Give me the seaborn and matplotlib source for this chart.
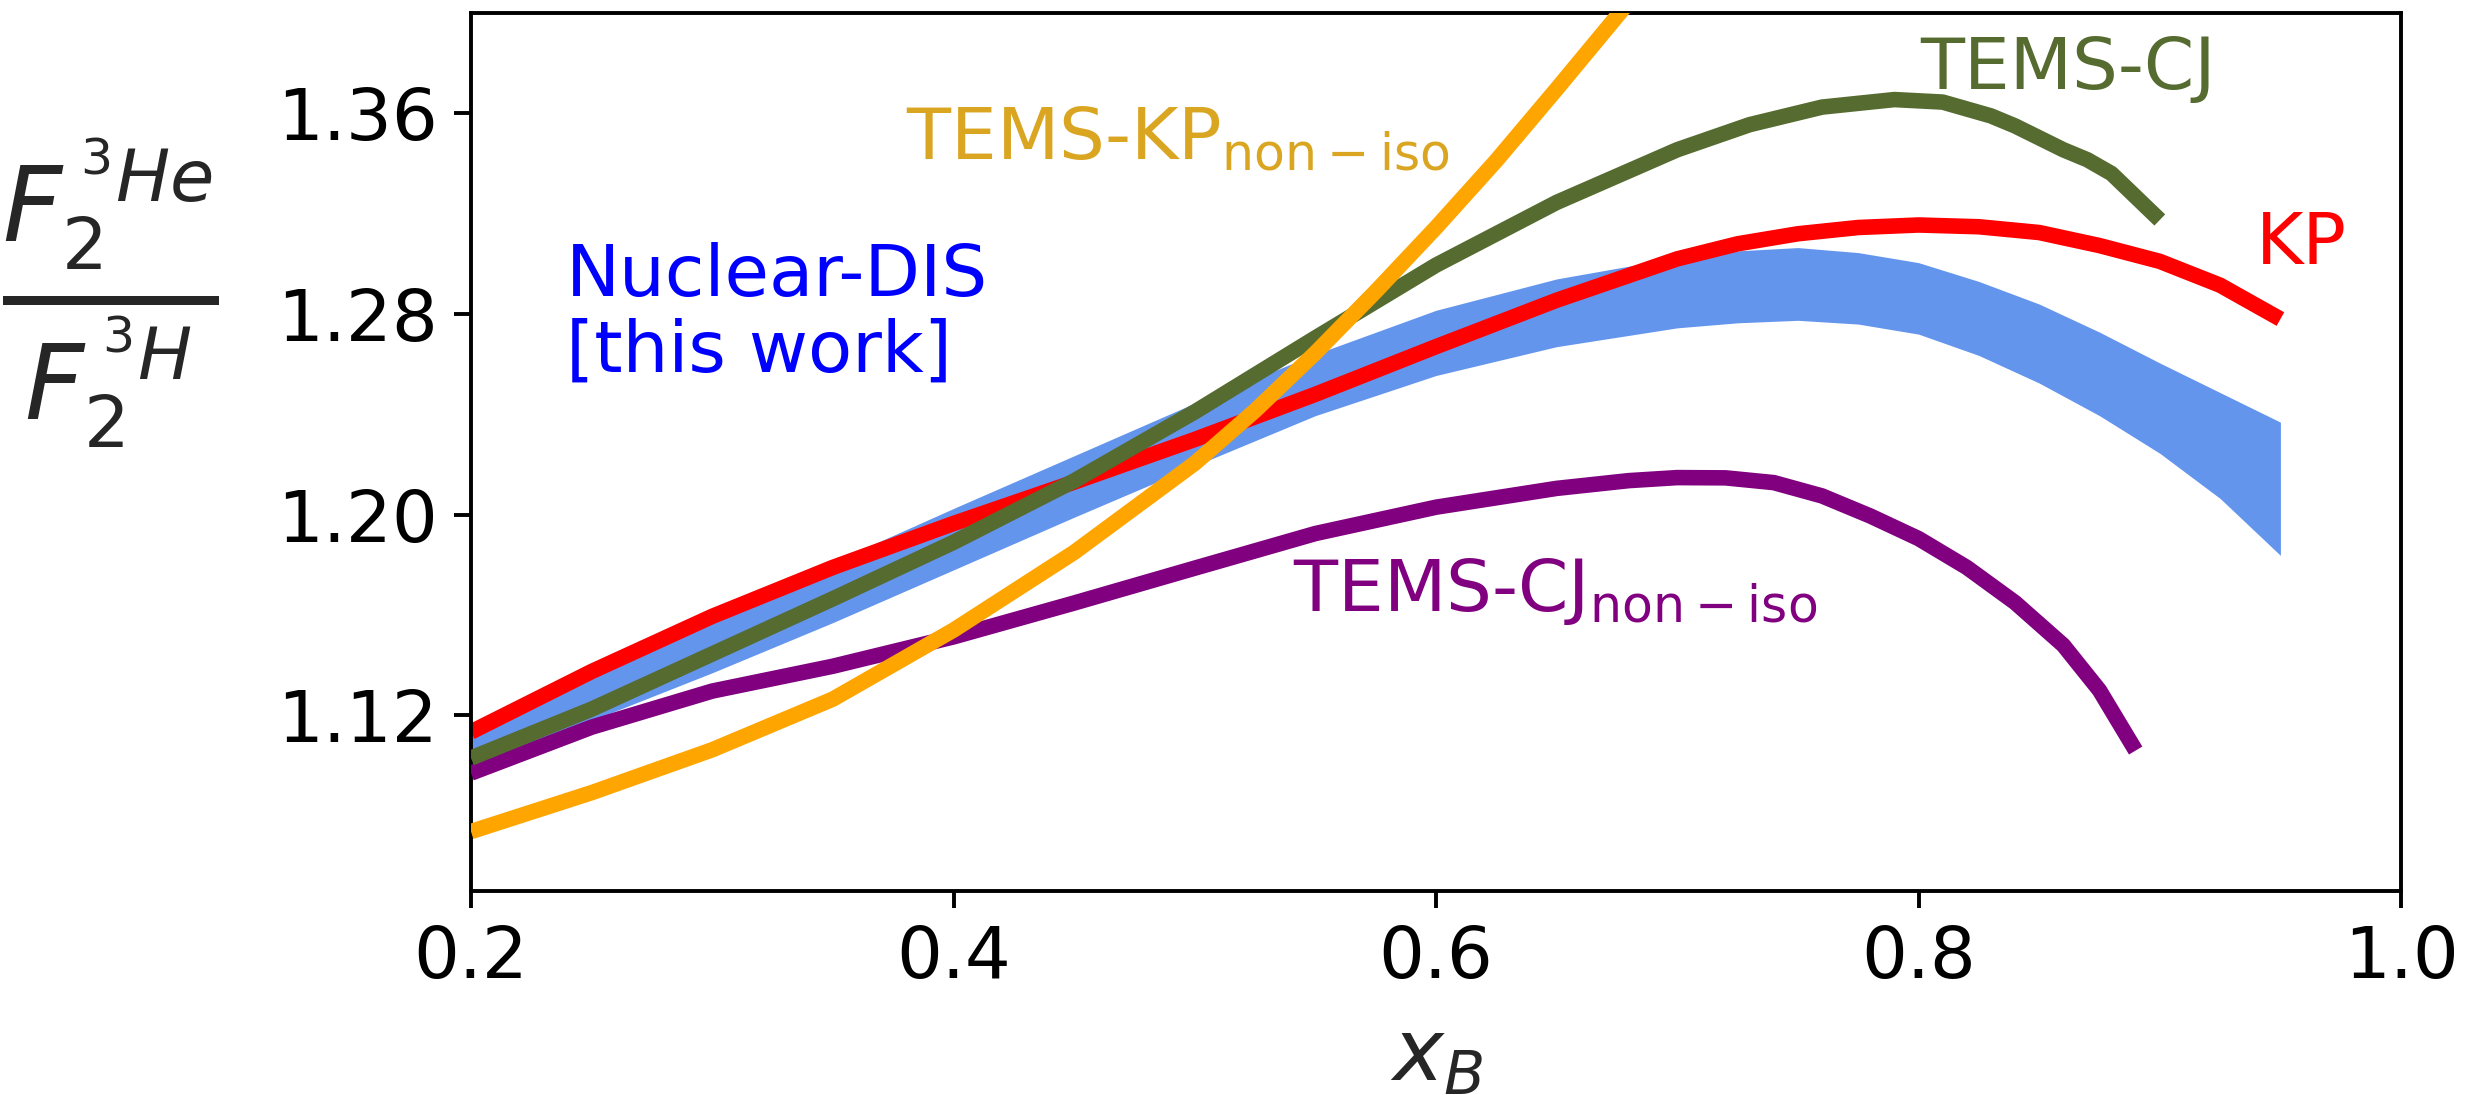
import matplotlib
matplotlib.use("Agg")
import matplotlib.pyplot as plt
import seaborn as sns

# ---------------- data ----------------
band_x = [0.20, 0.25, 0.30, 0.35, 0.40, 0.45, 0.50, 0.55, 0.60, 0.65, 0.70, 0.725, 0.75, 0.775, 0.80,
          0.825, 0.85, 0.875, 0.90, 0.925, 0.95]
band_lower = [1.099, 1.118, 1.137, 1.157, 1.178, 1.199, 1.2195, 1.2395, 1.2555, 1.2670, 1.2745, 1.2765, 1.2775,
              1.2760, 1.2720, 1.2635, 1.2525, 1.2395, 1.2245, 1.2065, 1.1838]
band_upper = [1.112, 1.136, 1.159, 1.181, 1.2025, 1.2235, 1.2445, 1.2640, 1.2815, 1.2940, 1.3025, 1.3052, 1.3065,
              1.3045, 1.3005, 1.2930, 1.2840, 1.2728, 1.2605, 1.2487, 1.2369]

kp_x = [0.20, 0.25, 0.30, 0.35, 0.40, 0.45, 0.50, 0.55, 0.60, 0.65, 0.70, 0.725, 0.75, 0.775, 0.80,
        0.825, 0.85, 0.875, 0.90, 0.925, 0.95]
kp_y = [1.1134, 1.1375, 1.1595, 1.1790, 1.1965, 1.2130, 1.2300, 1.2480, 1.2670, 1.2855, 1.3020, 1.3080, 1.3120,
        1.3145, 1.3155, 1.3148, 1.3125, 1.3073, 1.3010, 1.2915, 1.2780]

cj_x = [0.20, 0.25, 0.30, 0.35, 0.40, 0.45, 0.50, 0.55, 0.60, 0.65, 0.70, 0.73, 0.76, 0.79,
        0.81, 0.83, 0.84, 0.86, 0.87, 0.88, 0.90]
cj_y = [1.103, 1.1225, 1.1445, 1.1665, 1.189, 1.2135, 1.241, 1.2705, 1.2995, 1.3245, 1.3455, 1.3555, 1.3625,
        1.3655, 1.3645, 1.3590, 1.3550, 1.3455, 1.3415, 1.3360, 1.3175]

cjni_x = [0.20, 0.25, 0.30, 0.35, 0.40, 0.45, 0.50, 0.55, 0.60, 0.65, 0.68, 0.70, 0.72, 0.74, 0.76,
          0.78, 0.80, 0.82, 0.84, 0.86, 0.875, 0.89]
cjni_y = [1.097, 1.1153, 1.1297, 1.1396, 1.1513, 1.1648, 1.1787, 1.1925, 1.2030, 1.2105, 1.2136, 1.2148, 1.2147,
          1.2128, 1.2075, 1.1995, 1.1905, 1.1790, 1.1650, 1.1480, 1.1300, 1.1060]

kpni_x = [0.20, 0.25, 0.30, 0.35, 0.40, 0.45, 0.50, 0.525, 0.55, 0.575, 0.60, 0.625, 0.65, 0.68]
kpni_y = [1.0737, 1.0892, 1.1063, 1.1265, 1.1540, 1.1850, 1.2205, 1.2415, 1.2645, 1.2890, 1.3145, 1.3412,
          1.3697, 1.4045]

x_ticks = [0.2, 0.4, 0.6, 0.8, 1.0]
x_ticklabels = ["0.2", "0.4", "0.6", "0.8", "1.0"]
y_ticks = [1.12, 1.20, 1.28, 1.36]
y_ticklabels = ["1.12", "1.20", "1.28", "1.36"]

# ---------------- style ----------------
sns.set_style("ticks")
plt.rcParams["font.family"] = ["DejaVu Sans"]
plt.rcParams["mathtext.fontset"] = "dejavusans"

fig = plt.figure(figsize=(12.46, 5.475), dpi=200)
ax = fig.add_axes([0.1890, 0.1863, 0.7745, 0.8018])

LW = 5.6
ax.fill_between(band_x, band_lower, band_upper, color="cornflowerblue", linewidth=0, zorder=1)
sns.lineplot(x=kp_x, y=kp_y, ax=ax, color="red", lw=LW, solid_capstyle="butt", zorder=2)
sns.lineplot(x=cjni_x, y=cjni_y, ax=ax, color="purple", lw=LW, solid_capstyle="butt", zorder=3)
sns.lineplot(x=cj_x, y=cj_y, ax=ax, color="darkolivegreen", lw=LW, solid_capstyle="butt", zorder=4)
sns.lineplot(x=kpni_x, y=kpni_y, ax=ax, color="orange", lw=LW, solid_capstyle="butt", zorder=5)

ax.set_xlim(0.2, 1.0)
ax.set_ylim(1.05, 1.40)
ax.set_xticks(x_ticks)
ax.set_xticklabels(x_ticklabels)
ax.set_yticks(y_ticks)
ax.set_yticklabels(y_ticklabels)
ax.tick_params(axis="both", direction="out", length=6, width=1.4, labelsize=26, pad=6, colors="black")
for s in ax.spines.values():
    s.set_linewidth(1.4)
    s.set_color("black")

FS = 26
ax.text(0.3803, 1.3417, r"TEMS-KP$_{\rm non-iso}$", color="goldenrod", fontsize=FS, ha="left", va="baseline")
ax.text(0.2394, 1.2570, "Nuclear-DIS\n[this work]", color="blue", fontsize=FS, ha="left", va="baseline",
        linespacing=1.13)
ax.text(0.8006, 1.3698, "TEMS-CJ", color="darkolivegreen", fontsize=FS, ha="left", va="baseline")
ax.text(0.9399, 1.2999, "KP", color="red", fontsize=FS, ha="left", va="baseline")
ax.text(0.5406, 1.1615, r"TEMS-CJ$_{\rm non-iso}$", color="purple", fontsize=FS, ha="left", va="baseline")

ax.set_xlabel(r"$x_B$", fontsize=31, labelpad=8)
ax.set_ylabel(r"$\frac{F_2^{\,^3He}}{F_2^{\,^3H}}$", fontsize=53, rotation=0, ha="center", va="center")
ax.yaxis.set_label_coords(-0.1867, 0.681)

fig.savefig("out.png", dpi=200, facecolor="white")
